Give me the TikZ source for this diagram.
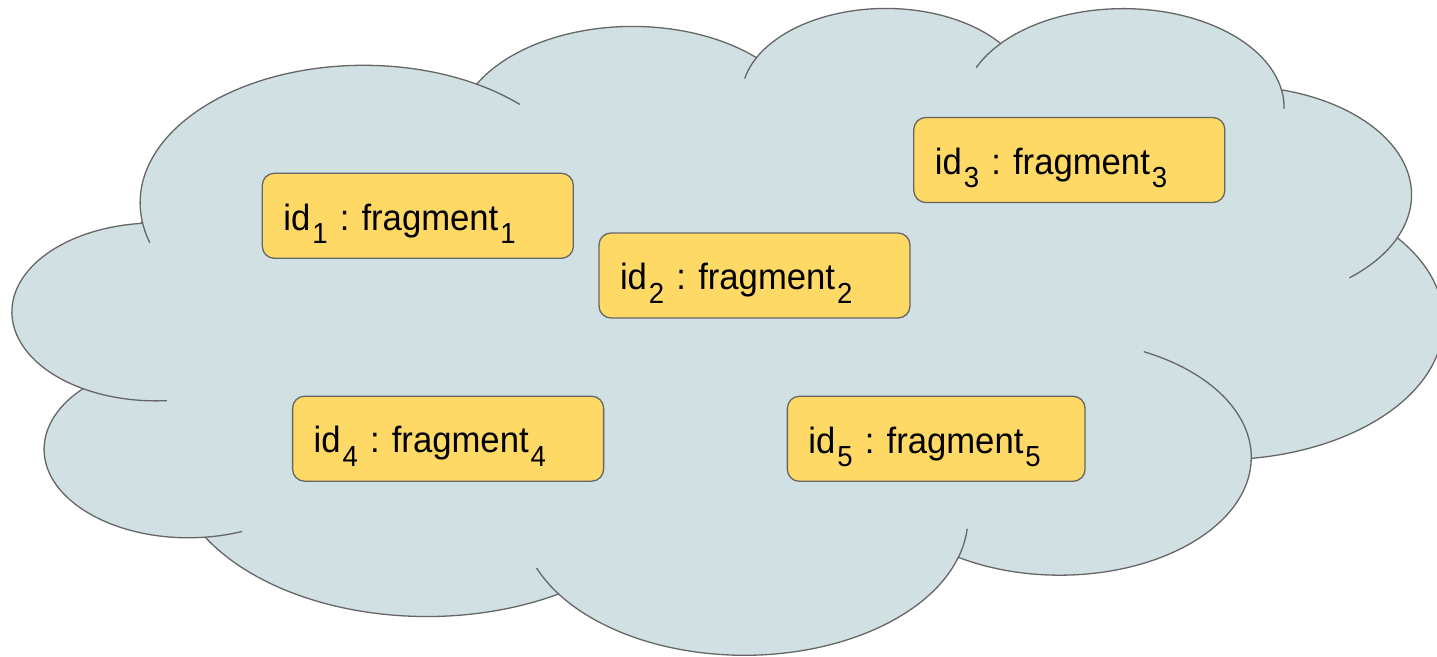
\documentclass[tikz,border=0pt]{standalone}
\usepackage{fontspec}
\setmainfont{Liberation Sans}[FakeStretch=0.95]
\usepackage{xcolor}
\definecolor{cloudfill}{HTML}{D0E0E3}
\definecolor{fragfill}{HTML}{FFD966}
\definecolor{edge}{HTML}{666666}
\frenchspacing
\newcommand{\low}[1]{\kern2bp\raisebox{-13.5bp}{\fontsize{29bp}{30bp}\selectfont #1}}
\tikzset{
  frag/.style={draw=edge, line width=1.3bp, fill=fragfill, rounded corners=12bp,
    inner xsep=21bp, inner ysep=0pt, text width=#1, align=left,
    text height=56.7bp, text depth=28.3bp, font=\fontsize{36.5bp}{40bp}\selectfont},
  frag/.default=269bp
}

\begin{document}
\begin{tikzpicture}[x=1bp, y=-1bp]
\useasboundingbox (0,0) rectangle (1437,657);
\begin{scope}[xshift=13.1bp, yshift=-6.3bp, x=3.31bp, y=-1.4966bp, draw=edge, line width=1.3bp] %cloud
\filldraw[fill=cloudfill] (39.00,143.70)
  arc [start angle=172.254, delta angle=128.109, x radius=67.53, y radius=91.90]
  arc [start angle=-152.027, delta angle=106.600, x radius=53.33, y radius=72.67]
  arc [start angle=-153.481, delta angle=116.172, x radius=43.65, y radius=59.45]
  arc [start angle=-139.701, delta angle=129.489, x radius=48.57, y radius=65.95]
  arc [start angle=-74.766, delta angle=97.974, x radius=53.33, y radius=72.73]
  arc [start angle=-37.531, delta angle=119.394, x radius=67.75, y radius=92.20]
  arc [start angle=0.460, delta angle=121.523, x radius=57.85, y radius=78.67]
  arc [start angle=16.844, delta angle=129.403, x radius=67.52, y radius=92.15]
  arc [start angle=58.984, delta angle=91.217, x radius=77.20, y radius=105.43]
  arc [start angle=83.306, delta angle=139.808, x radius=43.60, y radius=59.18]
  arc [start angle=120.354, delta angle=143.758, x radius=43.45, y radius=59.45] -- cycle;
\draw (43.107,204.197) ++(85.546:43.45 and 59.45) arc [start angle=85.546, end angle=120.354, x radius=43.45, y radius=59.45];
\draw (52.971,295.945) ++(68.236:43.60 and 59.18) arc [start angle=68.236, end angle=83.306, x radius=43.60, y radius=59.18];
\draw (220.962,341.496) ++(146.247:67.52 and 92.15) arc [start angle=146.247, end angle=158.472, x radius=67.52, y radius=92.15];
\draw (220.962,341.496) ++(4.738:67.52 and 92.15) arc [start angle=4.738, end angle=16.844, x radius=67.52, y radius=92.15];
\draw (316.229,301.473) ++(-64.023:57.85 and 78.67) arc [start angle=-64.023, end angle=0.460, x radius=57.85, y radius=78.67];
\draw (369.201,126.003) ++(23.208:53.33 and 72.73) arc [start angle=23.208, end angle=49.658, x radius=53.33, y radius=72.73];
\draw (335.413,67.520) ++(-10.212:48.57 and 65.95) arc [start angle=-10.212, end angle=0.816, x radius=48.57, y radius=65.95];
\draw (335.413,67.520) ++(-156.273:48.57 and 65.95) arc [start angle=-156.273, end angle=-139.701, x radius=48.57, y radius=65.95];
\draw (263.654,60.909) ++(-167.726:43.65 and 59.45) arc [start angle=-167.726, end angle=-153.481, x radius=43.65, y radius=59.45];
\draw (105.914,131.315) ++(-59.637:67.53 and 91.90) arc [start angle=-59.637, end angle=-45.708, x radius=67.53, y radius=91.90];
\draw (105.914,131.315) ++(163.194:67.53 and 91.90) arc [start angle=163.194, end angle=172.254, x radius=67.53, y radius=91.90];
\end{scope}
\node[frag] (frag1) at (417.8,215.8) {id\low{1} : fragment\low{1}};
\node[frag] (frag2) at (754.5,275.5) {id\low{2} : fragment\low{2}};
\node[frag] (frag3) at (1069.3,160) {id\low{3} : fragment\low{3}};
\node[frag] (frag4) at (448.1,438.7) {id\low{4} : fragment\low{4}};
\node[frag=255.7bp] (frag5) at (936.2,438.8) {id\low{5} : fragment\low{5}};
\end{tikzpicture}
\end{document}
